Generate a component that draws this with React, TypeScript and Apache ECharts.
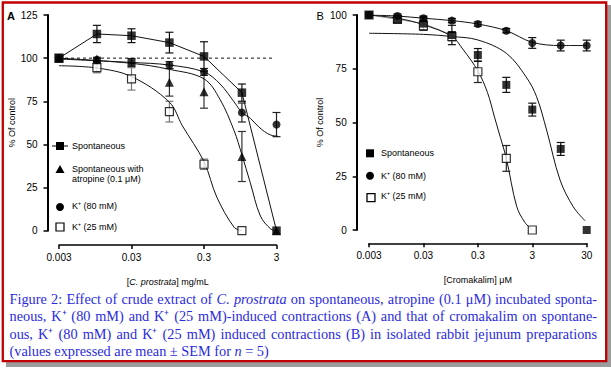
import React, { useEffect, useRef } from 'react';
import * as echarts from 'echarts';

// ---------- Panel A data (C. prostrata, mg/mL) ----------
const A_X_TICKS = ['0.003', '0.03', '0.3', '3'];
const A_SPONT_X = [0.003, 0.01, 0.03, 0.1, 0.3, 1, 3];
const A_SPONT_Y = [100, 114, 113, 109, 101, 80, 0];
const A_SPONT_E = [0, 5, 4, 6, 8.5, 5, 0];
const A_ATROP_X = [0.003, 0.01, 0.03, 0.1, 0.3, 1, 3];
const A_ATROP_Y = [100, 99.5, 97.5, 86, 80.5, 43, 0];
const A_ATROP_E = [0, 1, 2.3, 8, 9.5, 14.5, 0];
const A_K80_X = [0.003, 0.01, 0.1, 0.3, 1, 3];
const A_K80_Y = [100, 99, 96, 92, 68.5, 61.5];
const A_K80_E = [0, 1, 2, 2, 5.5, 7];
const A_K25_X = [0.003, 0.01, 0.03, 0.1, 0.3, 1];
const A_K25_Y = [100, 94.5, 88, 69, 38.5, 0];
const A_K25_E = [0, 3, 6.5, 6, 3, 0];
// fitted curves
const A_FIT_SPONT_X = [0.003, 0.01, 0.03, 0.1, 0.3, 1, 3];
const A_FIT_SPONT_Y = [100, 114, 113, 109, 101, 80, 0];
const A_FIT_K80_X = [0.003, 0.03, 0.1, 0.3, 0.5, 0.8, 1, 1.32, 1.72, 2.48, 3.8];
const A_FIT_K80_Y = [99.5, 97.5, 96, 92, 85, 74, 68.5, 65, 60, 55.5, 54.5];
const A_FIT_ATROP_X = [0.003, 0.03, 0.1, 0.3, 0.5, 0.78, 1, 1.3, 1.8, 2.5, 3];
const A_FIT_ATROP_Y = [100, 97, 93.5, 88, 76, 58, 44, 28, 8.5, 1, 0];
const A_FIT_K25_X = [0.003, 0.01, 0.03, 0.1, 0.15, 0.3, 0.45, 0.78, 1];
const A_FIT_K25_Y = [95.6, 94.3, 89.3, 74.5, 61, 40, 19.5, 2, 0];
const A_REF_X = [0.003, 2.6];
const A_REF_Y = [100, 100];

// ---------- Panel B data (Cromakalim, µM) ----------
const B_X_TICKS = ['0.003', '0.03', '0.3', '3', '30'];
const B_SPONT_X = [0.003, 0.01, 0.03, 0.1, 0.3, 1, 3, 10, 30];
const B_SPONT_Y = [100, 98, 96, 90.7, 81.4, 67.5, 56, 37.7, 0];
const B_SPONT_E = [0, 1.5, 3, 4.5, 3, 3.5, 3, 3, 0];
const B_K80_X = [0.003, 0.01, 0.03, 0.1, 0.3, 1, 3, 10, 30];
const B_K80_Y = [100, 99.5, 98.5, 97.4, 95.8, 92.7, 87, 85.8, 85.8];
const B_K80_E = [0, 1, 1, 1, 1, 1, 2.5, 2.5, 2.5];
const B_K25_X = [0.003, 0.01, 0.03, 0.1, 0.3, 1, 3];
const B_K25_Y = [100, 98, 95, 90, 73.6, 33.3, 0];
const B_K25_E = [0, 1, 2, 2, 5, 6, 0];
const B_FIT_K80_X = [0.003, 0.01, 0.03, 0.1, 0.3, 1, 3, 10, 30];
const B_FIT_K80_Y = [100, 99.5, 98.5, 97.4, 95.8, 92.7, 87.3, 85.8, 85.8];
const B_FIT_SPONT_X = [0.003, 0.03, 0.1, 0.3, 1, 2.3, 3.6, 5.5, 9.7, 17, 28];
const B_FIT_SPONT_Y = [91.5, 91, 90, 88.4, 82.2, 71.3, 62, 46.5, 23.3, 10.8, 4.3];
const B_FIT_K25_X = [0.003, 0.01, 0.03, 0.1, 0.16, 0.3, 0.45, 0.6, 0.71, 1, 1.55, 2.2, 3];
const B_FIT_K25_Y = [100, 98.5, 95.5, 90, 84, 74, 64, 53, 46.5, 33.3, 11, 3.5, 0];
const B_GRAY_X = [0.003, 0.01, 0.03, 0.1];
const B_GRAY_Y = [100, 98, 96, 90.7];

const CAPTION_LINES: [string, boolean][][] = [
  [['Figure 2: Effect of crude extract of', false], ['C. prostrata', true], ['on spontaneous, atropine (0.1 μM) incubated sponta-', false]],
  [['neous, K⁺ (80 mM) and K⁺ (25 mM)-induced contractions (A) and that of cromakalim on spontane-', false]],
  [['ous, K⁺ (80 mM) and K⁺ (25 mM) induced contractions (B) in isolated rabbit jejunum preparations', false]],
  [['(values expressed are mean ± SEM for', false], ['n', true], ['= 5)', false]],
];

const SANS = '"Liberation Sans", Arial, sans-serif';
const SERIF = '"Liberation Serif", "Times New Roman", serif';
const CAP_COLOR = '#2b2bdc';
const CAP_SIZE = 14.3;

const lx = (c: number) => Math.log10(c / 0.003);
const pts = (xs: number[], ys: number[]) => xs.map((x, i) => [lx(x), ys[i]]);
const errs = (xs: number[], ys: number[], es: number[]) =>
  xs.map((x, i) => [lx(x), ys[i] - es[i], ys[i] + es[i]]).filter((_, i) => es[i] > 0);

function errSeries(data: number[][], ax: number, color: string) {
  return {
    type: 'custom',
    xAxisIndex: ax,
    yAxisIndex: ax,
    data,
    z: 2,
    silent: true,
    clip: false,
    encode: { x: 0, y: [1, 2] },
    renderItem: (_p: any, api: any) => {
      const x = api.value(0);
      const a = api.coord([x, api.value(2)]);
      const b = api.coord([x, api.value(1)]);
      const w = 4;
      const st = { stroke: color, lineWidth: 1.2 };
      return {
        type: 'group',
        children: [
          { type: 'line', shape: { x1: a[0], y1: a[1], x2: b[0], y2: b[1] }, style: st },
          { type: 'line', shape: { x1: a[0] - w, y1: a[1], x2: a[0] + w, y2: a[1] }, style: st },
          { type: 'line', shape: { x1: b[0] - w, y1: b[1], x2: b[0] + w, y2: b[1] }, style: st },
        ],
      };
    },
  };
}

function lineSeries(data: number[][], ax: number, opts: any = {}) {
  return {
    type: 'line',
    xAxisIndex: ax,
    yAxisIndex: ax,
    data,
    symbol: 'none',
    smooth: opts.smooth ?? 0.35,
    z: 3,
    silent: true,
    lineStyle: { color: opts.color ?? '#111', width: opts.width ?? 1, type: opts.type ?? 'solid' },
  };
}

function scatterSeries(data: any[], ax: number, symbol: string, size: number, open = false) {
  return {
    type: 'scatter',
    xAxisIndex: ax,
    yAxisIndex: ax,
    data,
    symbol,
    symbolSize: size,
    z: 4,
    silent: true,
    itemStyle: open
      ? { color: '#fff', borderColor: '#000', borderWidth: 1.2 }
      : { color: '#000' },
  };
}

function xAxis(ax: number, max: number, ticks: string[], name: string, offset: number) {
  return {
    type: 'value',
    gridIndex: ax,
    min: 0,
    max,
    interval: 1,
    offset,
    name,
    nameLocation: 'middle',
    nameGap: 32,
    nameTextStyle: {
      color: '#000',
      fontSize: 9,
      fontFamily: SANS,
      rich: { i: { fontStyle: 'italic', fontSize: 9, fontFamily: SANS, color: '#000' } },
    },
    axisLine: { show: true, onZero: false, lineStyle: { color: '#000', width: 1.5 } },
    axisTick: { show: true, length: 4, lineStyle: { color: '#000', width: 1.5 } },
    axisLabel: {
      color: '#000',
      fontSize: 10,
      fontFamily: SANS,
      margin: 7,
      formatter: (v: number) => ticks[Math.round(v)] ?? '',
    },
    splitLine: { show: false },
  };
}

function yAxis(ax: number, max: number, offset: number, gap: number) {
  return {
    type: 'value',
    gridIndex: ax,
    min: 0,
    max,
    interval: 25,
    offset,
    name: '% Of control',
    nameLocation: 'middle',
    nameRotate: 90,
    nameGap: gap,
    nameTextStyle: { color: '#000', fontSize: 9, fontFamily: SANS },
    axisLine: { show: true, onZero: false, lineStyle: { color: '#000', width: 2 } },
    axisTick: { show: true, length: 4, lineStyle: { color: '#000', width: 1.5 } },
    axisLabel: { color: '#000', fontSize: 10, fontFamily: SANS, margin: 10 },
    splitLine: { show: false },
  };
}

function buildCaption(): any[] {
  const canvas = document.createElement('canvas');
  const ctx = canvas.getContext('2d')!;
  const size = CAP_SIZE;
  const measure = (t: string, it: boolean) => {
    ctx.font = `${it ? 'italic ' : ''}${size}px ${SERIF}`;
    return ctx.measureText(t).width;
  };
  const left = 9.5;
  const right = 597;
  const ys = [299, 316.3, 333.6, 350.9];
  const out: any[] = [];
  CAPTION_LINES.forEach((segs, li) => {
    const words: [string, boolean][] = [];
    segs.forEach(([t, it]) => t.split(' ').filter(Boolean).forEach((w) => words.push([w, it])));
    const widths = words.map(([w, it]) => measure(w, it));
    const sum = widths.reduce((a, b) => a + b, 0);
    const justify = li < CAPTION_LINES.length - 1;
    const gap = justify ? (right - left - sum) / (words.length - 1) : measure(' ', false);
    let x = left;
    words.forEach(([w, it], i) => {
      out.push({
        type: 'text',
        x,
        y: ys[li],
        z: 10,
        silent: true,
        style: {
          text: w,
          fill: CAP_COLOR,
          fontSize: size,
          fontFamily: SERIF,
          fontStyle: it ? 'italic' : 'normal',
          verticalAlign: 'middle',
          align: 'left',
        },
      });
      x += widths[i] + gap;
    });
  });
  return out;
}

function txt(text: string, x: number, y: number, size = 9, weight = 'normal') {
  return {
    type: 'text',
    x,
    y,
    z: 10,
    silent: true,
    style: { text, fill: '#000', fontSize: size, fontFamily: SANS, fontWeight: weight, verticalAlign: 'middle', align: 'left' },
  };
}

export default function App() {
  const ref = useRef<HTMLDivElement>(null);
  useEffect(() => {
    const el = ref.current!;
    const chart = echarts.init(el, undefined, { renderer: 'svg' });

    const a_atrop = pts(A_ATROP_X, A_ATROP_Y).map((p, i) =>
      A_ATROP_X[i] === 0.03 ? { value: p, symbol: 'rect', symbolSize: 8 } : p
    );

    const graphics: any[] = [
      { type: 'rect', z: 0, silent: true, shape: { x: 6, y: 5, width: 605, height: 362 }, style: { fill: '#9c9c9c' } },
      { type: 'rect', z: 0, silent: true, shape: { x: 2.8, y: 2.5, width: 603.4, height: 358.7 }, style: { fill: '#fff', stroke: '#c00000', lineWidth: 2.3 } },
      txt('A', 7, 15.5, 11, 'bold'),
      txt('B', 316.5, 15.5, 11, 'normal'),
      // legend A
      { type: 'line', z: 10, silent: true, shape: { x1: 52, y1: 146, x2: 68, y2: 146 }, style: { stroke: '#000', lineWidth: 1 } },
      { type: 'rect', z: 10, silent: true, shape: { x: 56, y: 142, width: 8, height: 8 }, style: { fill: '#000' } },
      txt('Spontaneous', 72, 146),
      { type: 'polygon', z: 10, silent: true, shape: { points: [[55.5, 173], [64.5, 173], [60, 165]] }, style: { fill: '#000' } },
      txt('Spontaneous with', 72, 168.7),
      txt('atropine (0.1 μM)', 72, 179.3),
      { type: 'circle', z: 10, silent: true, shape: { cx: 60, cy: 207, r: 4 }, style: { fill: '#000' } },
      txt('K⁺ (80 mM)', 72, 206),
      { type: 'rect', z: 10, silent: true, shape: { x: 56, y: 223, width: 8, height: 8 }, style: { fill: '#fff', stroke: '#000', lineWidth: 1.2 } },
      txt('K⁺ (25 mM)', 72, 226.7),
      // legend B
      { type: 'rect', z: 10, silent: true, shape: { x: 366, y: 149.3, width: 8, height: 8 }, style: { fill: '#000' } },
      txt('Spontaneous', 381, 153),
      { type: 'circle', z: 10, silent: true, shape: { cx: 370, cy: 175.7, r: 4 }, style: { fill: '#000' } },
      txt('K⁺ (80 mM)', 381, 175.5),
      { type: 'rect', z: 10, silent: true, shape: { x: 367, y: 193.7, width: 8, height: 8 }, style: { fill: '#fff', stroke: '#000', lineWidth: 1.3 } },
      txt('K⁺ (25 mM)', 381, 196),
      ...buildCaption(),
    ];

    const option: any = {
      animation: false,
      backgroundColor: '#fff',
      grid: [
        { left: 59, top: 15, width: 217.5, height: 215.7 },
        { left: 369, top: 15, width: 217.7, height: 215 },
      ],
      xAxis: [
        xAxis(0, 3, A_X_TICKS, '[{i|C. prostrata}] mg/mL', 14.3),
        xAxis(1, 4, B_X_TICKS, '[Cromakalim] μM', 13.3),
      ],
      yAxis: [yAxis(0, 125, 11.5, 30), yAxis(1, 100, 12.3, 32)],
      graphic: graphics,
      series: [
        // Panel A
        lineSeries(pts(A_REF_X, A_REF_Y), 0, { smooth: false, type: [3, 3] }),
        lineSeries(pts(A_FIT_K25_X, A_FIT_K25_Y), 0),
        lineSeries(pts(A_FIT_ATROP_X, A_FIT_ATROP_Y), 0),
        lineSeries(pts(A_FIT_K80_X, A_FIT_K80_Y), 0),
        lineSeries(pts(A_FIT_SPONT_X, A_FIT_SPONT_Y), 0, { smooth: false }),
        errSeries(errs(A_K25_X, A_K25_Y, A_K25_E), 0, '#777'),
        errSeries(errs(A_K80_X, A_K80_Y, A_K80_E), 0, '#222'),
        errSeries(errs(A_ATROP_X, A_ATROP_Y, A_ATROP_E), 0, '#333'),
        errSeries(errs(A_SPONT_X, A_SPONT_Y, A_SPONT_E), 0, '#111'),
        scatterSeries(pts(A_K25_X, A_K25_Y), 0, 'rect', 8, true),
        scatterSeries(pts(A_K80_X, A_K80_Y), 0, 'circle', 8),
        scatterSeries(a_atrop, 0, 'triangle', 9),
        scatterSeries(pts(A_SPONT_X, A_SPONT_Y), 0, 'rect', 8.5),
        // Panel B
        lineSeries(pts(B_GRAY_X, B_GRAY_Y), 1, { smooth: false, color: '#999' }),
        lineSeries(pts(B_FIT_K25_X, B_FIT_K25_Y), 1),
        lineSeries(pts(B_FIT_SPONT_X, B_FIT_SPONT_Y), 1),
        lineSeries(pts(B_FIT_K80_X, B_FIT_K80_Y), 1),
        errSeries(errs(B_K25_X, B_K25_Y, B_K25_E), 1, '#222'),
        errSeries(errs(B_K80_X, B_K80_Y, B_K80_E), 1, '#111'),
        errSeries(errs(B_SPONT_X, B_SPONT_Y, B_SPONT_E), 1, '#111'),
        scatterSeries(pts(B_K25_X, B_K25_Y), 1, 'rect', 8, true),
        scatterSeries(pts(B_K80_X, B_K80_Y), 1, 'circle', 8),
        scatterSeries(pts(B_SPONT_X, B_SPONT_Y), 1, 'rect', 8),
      ],
    };
    chart.setOption(option);
    return () => chart.dispose();
  }, []);
  return (
    <div
      ref={ref}
      style={{ position: 'fixed', left: 0, top: 0, width: 611, height: 370, background: '#fff' }}
    />
  );
}
